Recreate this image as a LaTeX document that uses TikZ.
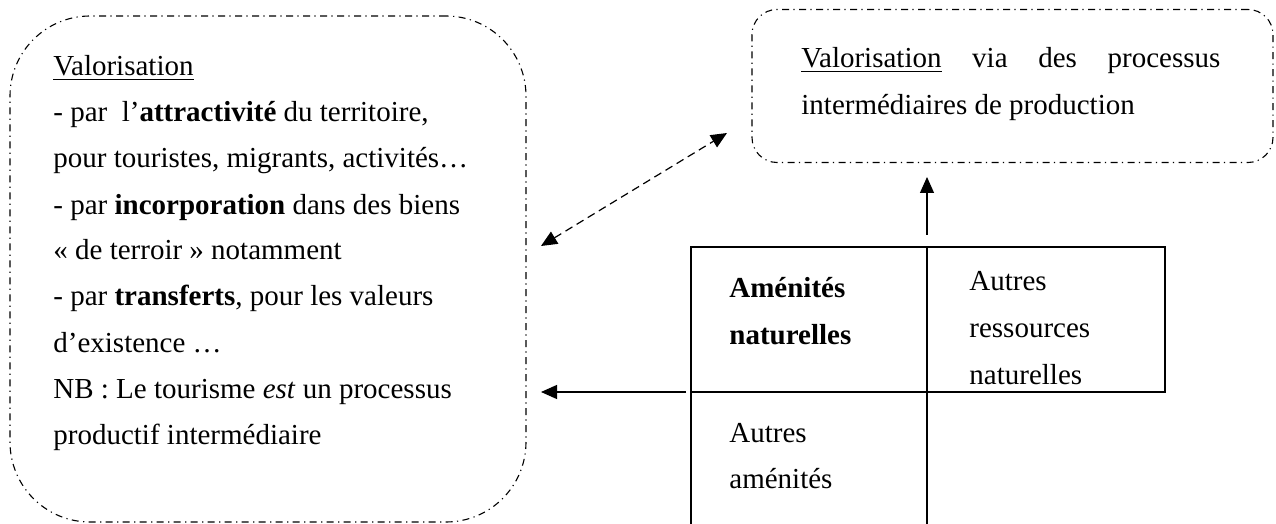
\documentclass[tikz,border=0pt]{standalone}
\usepackage{fontspec}
\setmainfont{Liberation Serif}
\usetikzlibrary{arrows.meta}
\begin{document}
\begin{tikzpicture}[x=0.5pt,y=-0.5pt,
  txt/.style={anchor=base west, inner sep=0pt, font=\fontsize{14.5}{17}\selectfont},
  dashdot box/.style={draw, line width=0.55pt, dash pattern=on 3.5pt off 2.2pt on 0.6pt off 2.2pt},
  grid line/.style={line width=0.75pt},
  solid tip/.style={-{Triangle[length=8pt,width=7pt]}, line width=0.6pt},
  dashed link/.style={{Triangle[length=8pt,width=7pt]}-{Triangle[length=8pt,width=7pt]},
    line width=0.6pt, dash pattern=on 4pt off 2.5pt},
]
\useasboundingbox (0,0) rectangle (1276,524);

% the two dash-dotted frames
\node (leftbox) [dashdot box, rounded corners=40pt, minimum width=258pt,
  minimum height=253pt, inner sep=0pt] at (268,269) {};
\node (rightbox) [dashdot box, rounded corners=12.5pt, minimum width=260.5pt,
  minimum height=76.5pt, inner sep=0pt] at (1012.5,86) {};

% text of the left frame
\node (l1) [txt] at (53,76) {\underline{Valorisation}};
\node (l2) [txt] at (53,122) {- par\hspace{0.5em}l’\textbf{attractivité} du territoire,};
\node (l3) [txt] at (53,168) {pour touristes, migrants, activités…};
\node (l4) [txt] at (53,214) {- par \textbf{incorporation} dans des biens};
\node (l5) [txt] at (53,260) {« de terroir » notamment};
\node (l6) [txt] at (53,306) {- par \textbf{transferts}, pour les valeurs};
\node (l7) [txt] at (53,352) {d’existence …};
\node (l8) [txt] at (53,398) {NB : Le tourisme \textit{est} un processus};
\node (l9) [txt] at (53,444) {productif intermédiaire};

% text of the right frame
\node (r1) [txt] at (801,68) {\hbox to 209.5pt{\underline{Valorisation}\hfill via\hfill des\hfill processus}};
\node (r2) [txt] at (801,115) {intermédiaires de production};

% the table of resources
\draw[grid line] (691,524) -- (691,247) -- (1165,247) -- (1165,392) -- (691,392);
\draw[grid line] (927,247) -- (927,524);
\node (c1a) [txt] at (729,297.5) {\textbf{Aménités}};
\node (c1b) [txt] at (729,344) {\textbf{naturelles}};
\node (c2a) [txt] at (969,291) {Autres};
\node (c2b) [txt] at (969,337.5) {ressources};
\node (c2c) [txt] at (969,384) {naturelles};
\node (c3a) [txt] at (729,442) {Autres};
\node (c3b) [txt] at (729,488.5) {aménités};

% connectors
\coordinate (dA) at (541,246);
\coordinate (dB) at (727,133);
\draw[dashed link] (dA) -- (dB);

\coordinate (upTail) at (927,235);
\coordinate (upTip) at (927,177);
\draw[solid tip] (upTail) -- (upTip);

\coordinate (leftTail) at (686,392);
\coordinate (leftTip) at (541,392);
\draw[solid tip] (leftTail) -- (leftTip);
\end{tikzpicture}
\end{document}
